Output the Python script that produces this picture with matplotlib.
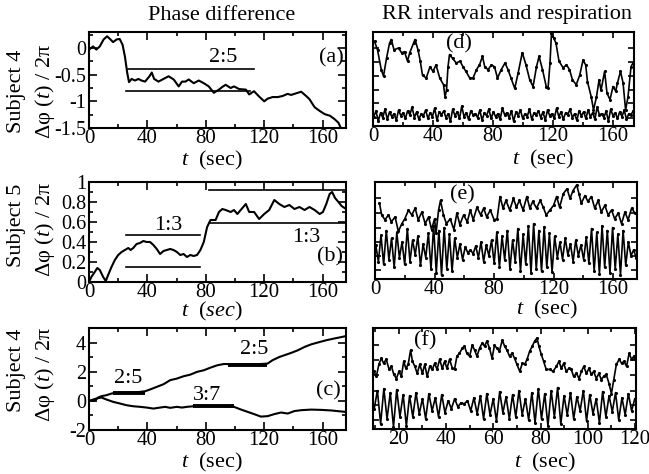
import numpy as np
import matplotlib
matplotlib.use("Agg")
import matplotlib.pyplot as plt
from matplotlib.ticker import MultipleLocator, NullFormatter

plt.rcParams['font.family'] = ['Liberation Serif', 'DejaVu Serif']
plt.rcParams['mathtext.fontset'] = 'custom'
plt.rcParams['mathtext.rm'] = 'Liberation Serif'
plt.rcParams['mathtext.it'] = 'Liberation Serif:italic'

# ---------------- data ----------------
a_t = [0.5,2.8,5,7.4,10,12.4,14.7,16.5,18.9,21,23,24.6,26.2,27.4,29.2,31.5,33.8,36,38.4,41.4,
       43,44.6,47.6,51,54.5,58,61.4,63.7,66,68.3,71.7,75.2,78.6,82,85.5,89,91.3,93.6,97,99.3,
       102.8,107.4,109.7,113,116.5,120,122.3,125.7,129.2,132.6,136,138.4,141.8,145.3,148.7,
       151,154.5,158,161.4,165,168,170.8,172.5]
a_v = [-0.02,0.03,-0.03,0.03,0.16,0.22,0.16,0.11,0.16,0.17,0.06,-0.16,-0.47,-0.64,-0.58,
       -0.61,-0.58,-0.61,-0.63,-0.53,-0.46,-0.58,-0.63,-0.58,-0.53,-0.59,-0.72,-0.63,-0.63,
       -0.59,-0.66,-0.61,-0.66,-0.72,-0.84,-0.78,-0.73,-0.69,-0.75,-0.72,-0.77,-0.78,-0.87,
       -0.81,-0.91,-1.0,-0.95,-0.92,-0.92,-0.90,-0.86,-0.88,-0.85,-0.82,-0.90,-0.96,-1.11,
       -1.18,-1.24,-1.27,-1.33,-1.40,-1.5]

b_t = [0,1.6,3.9,5.7,7.4,9.7,11.5,13.1,15.4,17.7,20,22.3,24.6,26.9,28.5,30.3,32.6,34.9,37.2,
       39.5,41.8,44.1,46.4,48.7,51,53.3,55.6,57.9,60.2,62.5,64.8,67.1,69.4,71.7,74,76.3,78.6,
       80.9,83.2,86.7,89,91.3,93.6,97,99.3,101.6,103.9,107.4,109.7,113.1,116.5,120,123.4,
       126.9,130.3,133.8,137.2,140.7,144.1,147.6,151,154.5,158,160.2,162.5,164.8,166.5,168.5,
       170.8,173,175]
b_v = [0.0,0.05,0.10,0.14,0.12,0.05,0.01,0.07,0.15,0.22,0.27,0.30,0.32,0.34,0.32,0.34,0.38,
       0.39,0.41,0.40,0.40,0.37,0.33,0.28,0.31,0.32,0.33,0.32,0.30,0.27,0.28,0.25,0.27,0.26,
       0.27,0.32,0.40,0.55,0.62,0.62,0.70,0.73,0.72,0.70,0.72,0.68,0.72,0.78,0.70,0.70,0.63,
       0.68,0.72,0.82,0.78,0.75,0.77,0.73,0.75,0.72,0.75,0.72,0.68,0.70,0.78,0.88,0.90,0.84,
       0.80,0.76,0.74]

cu_t = [0,3.9,6.2,8.5,12,15.4,18.9,25,32,38.4,41.8,46.4,51,55.6,60.2,64.8,69.4,74,78.6,83.2,
        87.8,92.4,97,106,115,122.3,125.7,130.3,133.8,138.4,143,147.6,152.2,158,162.5,168,173,176]
cu_v = [0,0,0.23,0.32,0.39,0.50,0.57,0.57,0.58,0.66,0.78,0.96,1.14,1.42,1.53,1.69,1.80,1.99,
        2.10,2.28,2.44,2.53,2.52,2.51,2.51,2.56,2.79,3.01,3.13,3.29,3.47,3.70,3.88,4.04,4.16,
        4.28,4.38,4.45]
cl_t = [0,5,8.5,12,16.6,21.1,25.7,30.3,34.9,39.5,44.1,48.7,52.2,55.6,60.2,63.7,67.1,71.7,80,
        90,99.3,103.9,108.5,113.1,117.7,122.3,126.9,131.5,136.1,140.7,145.3,152.2,159.1,166,
        172,176]
cl_v = [0,0.16,0.23,0.09,-0.07,-0.18,-0.30,-0.37,-0.41,-0.46,-0.53,-0.46,-0.41,-0.48,-0.41,
        -0.46,-0.41,-0.37,-0.36,-0.37,-0.41,-0.59,-0.75,-0.91,-1.08,-1.05,-0.91,-0.80,-0.87,
        -0.70,-0.64,-0.60,-0.62,-0.66,-0.72,-0.76]

# RR intervals (upper traces) and respiration (lower traces), arbitrary units
d_rr_t = [1,3,5.5,7,9,11,12.2,14,17,19,21,23,24.5,27,28,30,31.5,33,35.5,38,40,42,44.5,47,48,
          49,50,51,53,55.5,58,60,62,64.5,66.7,69,71,73,74.5,76.7,79,81,83,85.5,88,90,92,94.5,
          96.7,99.5,102,104.5,106.7,109,110.7,113,115.5,116.7,118,119,120.4,122,124,126.7,129,
          131,133,135.5,137.8,140,141.8,143,145.5,147,149,150.7,152,154.4,156,158,160,161.8,
          163,165,166.7,168.4,170,172,173.3]
d_rr = [0.90,0.81,0.60,0.53,0.72,0.88,0.92,0.81,0.83,0.78,0.79,0.69,0.78,0.88,0.92,0.81,0.69,
        0.54,0.51,0.63,0.58,0.65,0.51,0.44,0.31,0.38,0.63,0.76,0.72,0.67,0.69,0.63,0.58,0.51,
        0.51,0.60,0.65,0.74,0.63,0.60,0.65,0.63,0.51,0.60,0.67,0.60,0.51,0.40,0.56,0.78,0.65,
        0.49,0.42,0.63,0.74,0.60,0.42,0.40,0.67,0.99,0.94,0.88,0.69,0.62,0.65,0.60,0.49,0.44,
        0.54,0.70,0.65,0.47,0.31,0.17,0.31,0.49,0.38,0.58,0.35,0.28,0.42,0.37,0.46,0.58,0.46,
        0.17,0.31,0.63,0.67]
d_resp = [0.10,0.16,0.05,0.14,0.09,0.18,0.07,0.15,0.10,0.13,0.06,0.17,0.11,0.14,0.08,0.16,0.12,
          0.20,0.09,0.15,0.07,0.13,0.11,0.17,0.08,0.14,0.10,0.19,0.06,0.15,0.12,0.16,0.09,0.13,
          0.05,0.18,0.11,0.15,0.08,0.21,0.10,0.14,0.07,0.16,0.12,0.13,0.09,0.17,0.06,0.14,0.11,
          0.18,0.08,0.15,0.10,0.13,0.07,0.19,0.12,0.14,0.09,0.16,0.05,0.15,0.11,0.17,0.08,0.13,
          0.10,0.18,0.07,0.14,0.12,0.16,0.09,0.15,0.06,0.17,0.11,0.13,0.08,0.19,0.10,0.15,0.07,
          0.14,0.12,0.18,0.09,0.13,0.06,0.16,0.11,0.15,0.08,0.17,0.10,0.14,0.07,0.20,0.12,0.13,
          0.09,0.16,0.05,0.18,0.11,0.14,0.08,0.15,0.10,0.17,0.07,0.13,0.12,0.16]

e_rr_t = [3,4.5,6.7,9,11,13.5,15.7,18,20,22.5,24.7,27,29,31.5,33.7,36,38,40,41,42.7,44,46,48,
          50.5,53,55,57,59.5,62,64,66,68.5,71,73,75,77.5,80,82,84,86,88,90.5,93,95,97,99.5,102,
          104,106,108.5,111,113,115,117.5,120,122,124,126.5,129,131,133,135.5,137,138.6,141,
          143,145.4,147.6,150,152,154.4,156.6,158.9,161,163.4,165.6,167.9,170,172.4,174.6]
e_rr = [0.78,0.66,0.61,0.66,0.59,0.64,0.49,0.57,0.62,0.71,0.66,0.73,0.61,0.69,0.57,0.64,0.51,
        0.62,0.47,0.71,0.81,0.66,0.57,0.62,0.51,0.68,0.56,0.66,0.59,0.71,0.61,0.74,0.66,0.73,
        0.64,0.71,0.61,0.62,0.85,0.73,0.81,0.71,0.83,0.74,0.81,0.71,0.85,0.73,0.80,0.73,0.81,
        0.74,0.66,0.71,0.76,0.85,0.74,0.88,0.93,0.83,0.91,0.97,0.88,0.78,0.86,0.80,0.85,0.73,
        0.81,0.69,0.76,0.66,0.71,0.62,0.68,0.57,0.69,0.61,0.73,0.68]
e_resp = [0.35,0.18,0.45,0.15,0.50,0.20,0.42,0.12,0.48,0.22,0.38,0.15,0.52,0.18,0.40,0.25,0.44,
          0.14,0.36,0.22,0.47,0.10,
          0.55,0.06,0.50,0.04,0.53,0.10,0.46,0.08,0.42,
          0.22,0.36,0.20,0.33,0.27,0.30,0.26,0.34,0.22,0.38,0.18,0.35,0.24,0.40,0.16,
          0.48,0.12,0.44,0.20,0.50,0.10,0.40,0.18,0.52,0.08,0.46,0.15,0.55,
          0.06,0.57,0.10,0.50,0.08,0.54,0.12,0.47,0.07,0.44,
          0.22,0.38,0.20,0.42,0.25,0.36,0.18,0.40,0.24,0.35,0.20,0.43,0.16,
          0.52,0.08,0.48,0.05,0.55,0.12,0.50,0.06,0.53,0.10,0.46,0.04,0.50,0.14,0.38,0.24,0.30,0.22]

f_rr_t = [9.5,10.5,11.6,12.6,13.6,14.7,15.9,16.9,17.9,19,20.1,21.1,22.1,23,24,25,25.8,26.8,27.8,
          28.9,30,31,32,33.1,34.2,35.2,36.2,37.3,38.4,39.4,40.4,41.5,42.7,43.6,44.6,45.7,46.9,
          47.8,48.8,50,51.1,52.1,53.1,54.2,55.3,56.3,57.3,58.4,59.5,60.5,61.5,62.6,63.8,64.8,
          65.8,66.9,68,69,70,71.2,72.3,73.3,74.3,75.4,76.5,77.5,78.5,79.3,80.3,81.3,82.4,83.9,
          85.3,86.7,87.8,88.8,89.8,90.9,92,93,94,95.2,96.3,97.3,98.3,99.4,100.5,101.5,102.5,
          103.6,104.7,105.7,106.7,107.8,109,110,111,112.1,113.3,114.3,115.3,116.4,117.5,118.5,
          119.5,120]
f_rr = [0.57,0.52,0.64,0.70,0.65,0.69,0.59,0.62,0.54,0.50,0.57,0.52,0.67,0.60,0.64,0.78,0.67,
        0.62,0.55,0.64,0.55,0.64,0.52,0.62,0.59,0.65,0.59,0.69,0.60,0.67,0.60,0.69,0.60,0.59,
        0.72,0.75,0.80,0.82,0.75,0.72,0.83,0.78,0.72,0.80,0.85,0.82,0.87,0.80,0.70,0.83,0.80,
        0.77,0.88,0.82,0.78,0.72,0.75,0.70,0.64,0.57,0.65,0.64,0.69,0.77,0.82,0.87,0.90,0.82,
        0.74,0.67,0.59,0.59,0.57,0.62,0.67,0.60,0.65,0.57,0.60,0.59,0.52,0.55,0.50,0.57,0.62,
        0.55,0.60,0.54,0.57,0.50,0.55,0.49,0.52,0.54,0.45,0.35,0.49,0.64,0.69,0.65,0.67,0.62,
        0.75,0.69,0.72,0.69]
f_resp = [0.20,0.38,0.05,0.40,0.10,0.36,0.02,0.39,0.12,0.34,0.03,
          0.33,0.12,0.36,0.15,0.30,0.10,0.35,0.18,0.31,0.12,0.34,
          0.16,0.28,0.20,0.30,0.22,0.26,0.25,0.28,0.18,0.31,0.15,0.33,
          0.10,0.35,0.14,0.30,0.08,0.37,0.16,0.32,0.10,0.34,0.12,0.38,0.14,0.30,0.09,0.36,
          0.06,0.40,0.10,0.35,0.03,0.38,0.12,0.41,0.05,0.33,
          0.14,0.36,0.10,0.32,0.18,0.38,0.08,0.34,0.15,0.30,0.06,0.37,0.12,0.33,0.17,0.36,
          0.09,0.31,0.14,0.35,0.18,0.30]

# synchronization plateaus (t_start, t_end, level)
a_lines = [(27, 113, -0.40), (25, 110, -0.80)]
b_lines = [(25, 76, 0.47), (25, 76, 0.15), (82, 176, 0.92), (82, 176, 0.59)]
c_plateaus = [(16.5, 38.4, 0.55), (95, 122, 2.48), (71, 99, -0.37)]

# ---------------- figure ----------------
W, H = 649, 474
fig = plt.figure(figsize=(W / 100, H / 100), dpi=100)

def add_ax(x0, y0, x1, y1):
    return fig.add_axes([x0 / W, 1 - y1 / H, (x1 - x0) / W, (y1 - y0) / H])

XT_FS = 15
YT_FS = 14.5
LAB_FS = 16

def style(ax):
    ax.tick_params(which='both', direction='in', top=True, right=True,
                   width=1.2, pad=2)
    ax.tick_params(axis='x', labelsize=XT_FS, pad=0.5)
    ax.tick_params(axis='y', labelsize=YT_FS)
    ax.tick_params(which='major', length=6)
    ax.tick_params(which='minor', length=3)
    for s in ax.spines.values():
        s.set_linewidth(1.5)

LW = 1.5
# (a)
axa = add_ax(89, 32, 346, 128)
axa.plot(a_t, a_v, color='k', lw=LW)
for t0, t1, v in a_lines:
    axa.plot([t0, t1], [v, v], color='k', lw=1.2)
axa.set_xlim(0, 176)
axa.set_ylim(-1.5, 0.3)
axa.set_xticks([0, 40, 80, 120, 160])
axa.xaxis.set_minor_locator(MultipleLocator(20))
axa.set_yticks([-1.5, -1, -0.5, 0])
axa.set_yticklabels(['-1.5', '-1', '-0.5', '0'])
axa.yaxis.set_minor_locator(MultipleLocator(0.25))
axa.text(92, -0.18, '2:5', fontsize=LAB_FS, ha='center', va='center')
axa.text(166, -0.18, '(a)', fontsize=LAB_FS, ha='center', va='center')
style(axa)

# (b)
axb = add_ax(89, 182, 346, 282)
axb.plot(b_t, b_v, color='k', lw=LW)
for t0, t1, v in b_lines:
    axb.plot([t0, t1], [v, v], color='k', lw=1.2)
axb.set_xlim(0, 176)
axb.set_ylim(0, 1)
axb.set_xticks([0, 40, 80, 120, 160])
axb.xaxis.set_minor_locator(MultipleLocator(20))
axb.set_yticks([0, 0.2, 0.4, 0.6, 0.8, 1])
axb.set_yticklabels(['0', '0.2', '0.4', '0.6', '0.8', '1'])
axb.yaxis.set_minor_locator(MultipleLocator(0.1))
axb.text(54.5, 0.57, '1:3', fontsize=LAB_FS, ha='center', va='center')
axb.text(149, 0.44, '1:3', fontsize=LAB_FS, ha='center', va='center')
axb.text(165, 0.25, '(b)', fontsize=LAB_FS, ha='center', va='center')
style(axb)

# (c)
axc = add_ax(89, 328, 346, 430)
axc.plot(cu_t, cu_v, color='k', lw=LW)
axc.plot(cl_t, cl_v, color='k', lw=LW)
for t0, t1, v in c_plateaus:
    axc.plot([t0, t1], [v, v], color='k', lw=2.8, solid_capstyle='butt')
axc.set_xlim(0, 176)
axc.set_ylim(-2, 5)
axc.set_xticks([0, 40, 80, 120, 160])
axc.xaxis.set_minor_locator(MultipleLocator(20))
axc.set_yticks([-2, 0, 2, 4])
axc.set_yticklabels(['-2', '0', '2', '4'])
axc.yaxis.set_minor_locator(MultipleLocator(1))
axc.text(27, 1.55, '2:5', fontsize=LAB_FS, ha='center', va='center')
axc.text(81, 0.4, '3:7', fontsize=LAB_FS, ha='center', va='center')
axc.text(113, 3.5, '2:5', fontsize=LAB_FS, ha='center', va='center')
axc.text(164, 0.7, '(c)', fontsize=LAB_FS, ha='center', va='center')
style(axc)

# right column
def right_panel(box, t_rr, rr, resp, xlim, xt, minor, label, label_t):
    ax = add_ax(*box)
    ax.plot(t_rr, rr, color='k', lw=1.2, marker='.', ms=2.5)
    tr = np.linspace(xlim[0] + 0.5, xlim[1] - 0.5, len(resp))
    ax.plot(tr, resp, color='k', lw=1.2, marker='.', ms=2.5)
    ax.set_xlim(*xlim)
    ax.set_ylim(0, 1)
    ax.set_xticks(xt)
    ax.xaxis.set_minor_locator(MultipleLocator(minor))
    ax.set_yticks([0.09, 0.24, 0.38, 0.53, 0.68, 0.83])
    ax.yaxis.set_major_formatter(NullFormatter())
    ax.text(label_t, 0.87, label, fontsize=LAB_FS, ha='center', va='center')
    style(ax)
    ax.tick_params(which='major', length=4)
    return ax

axd = right_panel((373, 32, 634, 126), d_rr_t, d_rr, d_resp, (0, 174),
                  [0, 40, 80, 120, 160], 20, '(d)', 57)
axe = right_panel((375, 182, 637, 279), e_rr_t, e_rr, e_resp, (0, 176),
                  [0, 40, 80, 120, 160], 20, '(e)', 59)
axf = right_panel((373, 328, 636, 429), f_rr_t, f_rr, f_resp, (9.1, 120.4),
                  [20, 40, 60, 80, 100, 120], 10, '(f)', 31)

# titles
fig.text(222 / W, 1 - 15 / H, 'Phase difference', fontsize=LAB_FS, ha='center', va='center')
fig.text(507 / W, 1 - 15 / H, 'RR intervals and respiration', fontsize=LAB_FS,
         ha='center', va='center')

# y labels
ylab = r'Δφ ($t$) / 2π'
for subj, yc1, yc2 in [('Subject 4', 91, 92), ('Subject 5', 225, 230), ('Subject 4', 370, 375)]:
    fig.text(17 / W, 1 - yc1 / H, subj, rotation=90, fontsize=LAB_FS, ha='center', va='center')
    fig.text(45 / W, 1 - yc2 / H, ylab, rotation=90, fontsize=LAB_FS, ha='center', va='center')

# x labels
for xc, yc, s in [(212, 160, r'$t$  (sec)'), (212, 311, r'$t$  $(sec)$'), (212, 462, r'$t$  (sec)'),
                  (543, 159, r'$t$  (sec)'), (547, 309, r'$t$  (sec)'), (545, 462, r'$t$  (sec)')]:
    fig.text(xc / W, 1 - yc / H, s, fontsize=LAB_FS, ha='center', va='center')

fig.savefig('out.png', dpi=100)
